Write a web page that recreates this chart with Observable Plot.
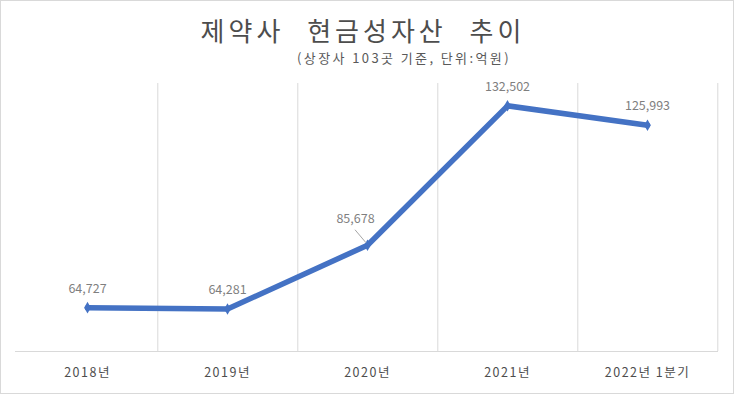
<!DOCTYPE html>
<html>
<head>
<meta charset="utf-8">
<script src="https://cdn.jsdelivr.net/npm/d3@7"></script>
<script src="https://cdn.jsdelivr.net/npm/@observablehq/plot@0.6"></script>
<style>
  html, body { margin: 0; padding: 0; background: #fff; }
  #wrap { position: relative; width: 734px; height: 394px; overflow: hidden;
          font-family: "Noto Sans CJK KR", "Noto Sans", sans-serif; }
  #frame { position: absolute; left: 0; top: 0; width: 732px; height: 392px;
           border: 1px solid #d9d9d9; pointer-events: none; }
  #title { position: absolute; left: 0; top: 15.5px; width: 726px; text-align: center;
           font-size: 26px; line-height: 28px; letter-spacing: 4px; word-spacing: 13px;
           font-weight: 400; color: #4d4d4d; white-space: nowrap; }
  #subtitle { position: absolute; left: 297px; top: 49px; font-size: 13px; line-height: 18px;
              letter-spacing: 2.4px; color: #595959; white-space: nowrap; }
  #chart { position: absolute; left: 0; top: 70px; }
  #chart svg g[aria-label="x-axis tick label"] text,
  #chart svg g[aria-label="x-axis"] text { letter-spacing: 1.5px; }
</style>
</head>
<body>
<div id="wrap">
  <div id="title">제약사 현금성자산 추이</div>
  <div id="subtitle">(상장사 103곳 기준, 단위:억원)</div>
  <div id="chart"></div>
  <div id="frame"></div>
</div>
<script>
const categories = ["2018년", "2019년", "2020년", "2021년", "2022년 1분기"];
const values = [64727, 64281, 85678, 132502, 125993];
const yDomain = [50000, 140000];

const data = categories.map((c, i) => ({cat: c, value: values[i]}));
const fmt = d3.format(",");

const W = 734, H = 324, mL = 15, mR = 16, mT = 13, mB = 43;
const step = (W - mL - mR) / categories.length;

const leader = function(...args) {
  const scales = args.find(a => a && typeof a.x === "function" && typeof a.y === "function");
  const d = data[2];
  const px = scales.x(d.cat), py = scales.y(d.value);
  const g = d3.create("svg:g");
  g.append("line")
    .attr("x1", px - 12).attr("y1", py - 15)
    .attr("x2", px - 1).attr("y2", py - 2)
    .attr("stroke", "#a6a6a6").attr("stroke-width", 1);
  return g.node();
};

const chart = Plot.plot({
  width: W, height: H,
  marginLeft: mL, marginRight: mR, marginTop: mT, marginBottom: mB,
  style: {fontFamily: '"Noto Sans CJK KR", "Noto Sans", sans-serif', background: "transparent", overflow: "visible"},
  x: {type: "point", domain: categories, padding: 0.5, tickSize: 0, tickPadding: 17, label: null},
  y: {domain: yDomain, axis: null},
  marks: [
    Plot.ruleX(categories, {x: d => d, dx: step / 2, stroke: "#d9d9d9", strokeOpacity: 1}),
    Plot.ruleY([yDomain[0]], {stroke: "#d9d9d9", strokeOpacity: 1}),
    Plot.line(data, {x: "cat", y: "value", stroke: "#4472C4", strokeWidth: 5.5}),
    Plot.dot(data, {x: "cat", y: "value", symbol: "diamond", r: 3.5, fill: "#4472C4", stroke: "none"}),
    leader,
    Plot.text(data.filter(d => d.cat !== "2020년"), {x: "cat", y: "value", text: d => fmt(d.value), dy: -19, fill: "#7f7f7f", fontSize: 12.5}),
    Plot.text(data.filter(d => d.cat === "2020년"), {x: "cat", y: "value", text: d => fmt(d.value), dx: -12, dy: -26, fill: "#7f7f7f", fontSize: 12.5})
  ]
});
document.getElementById("chart").appendChild(chart);
chart.querySelectorAll('g[aria-label="x-axis tick label"], g[aria-label="x-axis"]').forEach(g => {
  g.setAttribute("font-size", "12.5");
  g.setAttribute("fill", "#4d4d4d");
});
chart.querySelectorAll('g[aria-label="x-axis tick label"] text, g[aria-label="x-axis"] text').forEach(t => {
  t.setAttribute("fill", "#4d4d4d");
});
</script>
</body>
</html>
